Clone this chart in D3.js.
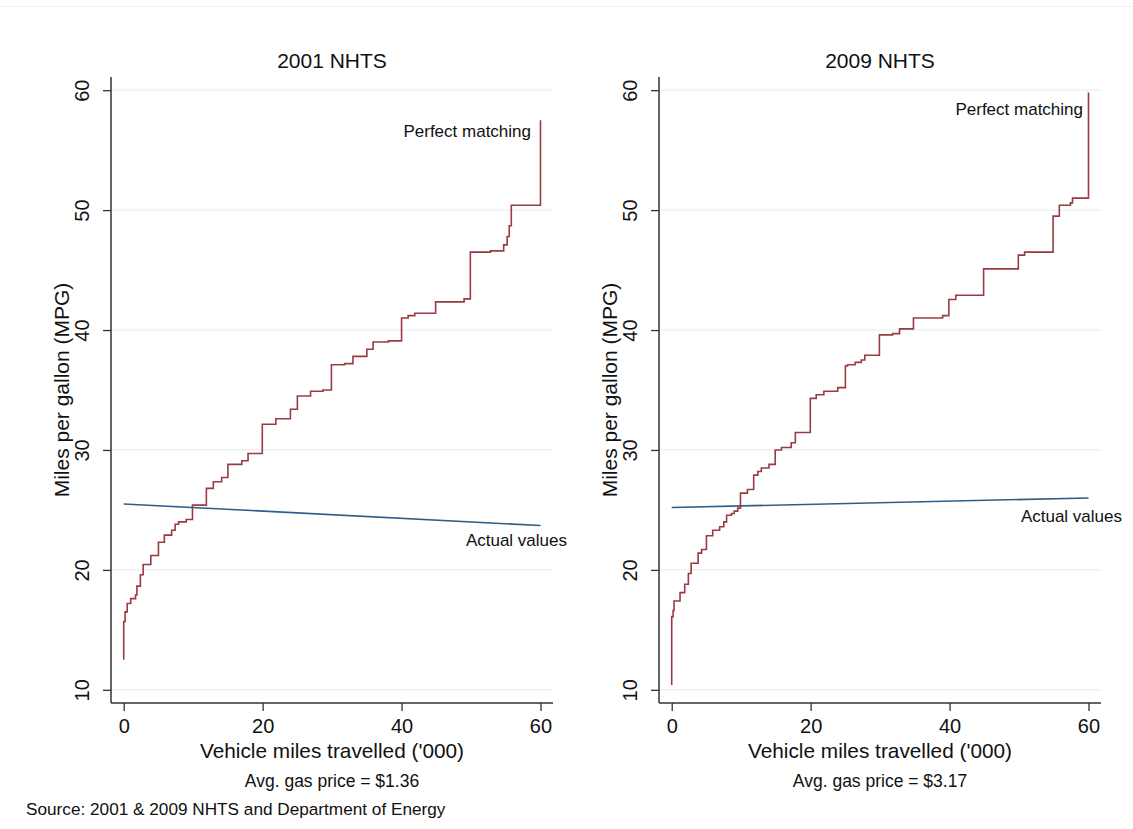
<!DOCTYPE html>
<html>
<head>
<meta charset="utf-8">
<script src="https://cdnjs.cloudflare.com/ajax/libs/d3/7.8.5/d3.min.js"></script>
<style>
  body { margin: 0; background: #fff; }
  svg { font-family: "Liberation Sans", Arial, sans-serif; }
</style>
</head>
<body>
<svg width="1133" height="829"></svg>
<script>
// values
var panelTitles = ["2001 NHTS", "2009 NHTS"];
var gasPrices = ["Avg. gas price = $1.36", "Avg. gas price = $3.17"];
var xTicks = [0, 20, 40, 60];
var yTicks = [10, 20, 30, 40, 50, 60];

// "Perfect matching" step curves: vmt ('000) and mpg at each step
var match2001X = [0, 0, 0.2, 0.5, 1.0, 1.7, 1.9, 2.4, 2.8, 3.9, 5.0, 5.85, 6.9, 7.4, 7.9, 9.0, 9.9, 11.9, 12.9, 14.1, 15.0, 17.0, 17.9, 19.95, 21.9, 24.0, 25.0, 26.9, 28.7, 29.9, 31.8, 33.0, 35.0, 35.9, 38.1, 40.0, 40.95, 41.9, 44.9, 49.0, 49.9, 52.8, 54.7, 55.2, 55.5, 55.8, 60];
var match2001Y = [12.5, 15.7, 16.5, 17.2, 17.6, 17.9, 18.65, 19.6, 20.45, 21.2, 22.3, 22.9, 23.3, 23.8, 24.0, 24.2, 25.4, 26.8, 27.35, 27.7, 28.8, 29.1, 29.7, 32.15, 32.6, 33.4, 34.5, 34.9, 35.0, 37.1, 37.2, 37.8, 38.4, 39.0, 39.1, 41.0, 41.2, 41.4, 42.35, 42.6, 46.5, 46.6, 47.1, 47.8, 48.7, 50.4, 57.5];

var match2009X = [0, 0, 0.2, 0.33, 1.2, 1.87, 2.4, 2.8, 3.8, 4.3, 5.0, 5.9, 6.9, 7.5, 7.9, 8.6, 9.0, 9.5, 9.9, 10.9, 11.8, 12.4, 12.9, 14.0, 14.9, 15.8, 17.2, 17.8, 19.95, 20.8, 21.9, 23.9, 25.0, 25.3, 26.4, 27.3, 27.8, 29.9, 31.8, 32.8, 34.8, 39.0, 39.9, 40.9, 44.9, 49.9, 50.8, 54.9, 55.8, 57.4, 57.7, 60];
var match2009Y = [10.4, 16.1, 16.6, 17.4, 18.1, 18.8, 19.7, 20.55, 21.4, 21.7, 22.85, 23.3, 23.6, 24.0, 24.55, 24.7, 24.9, 25.15, 26.4, 26.7, 27.9, 28.2, 28.5, 28.8, 30.0, 30.2, 30.6, 31.45, 34.3, 34.6, 34.9, 35.2, 37.0, 37.1, 37.3, 37.5, 37.9, 39.6, 39.7, 40.1, 41.0, 41.2, 42.55, 42.9, 45.1, 46.25, 46.5, 49.5, 50.4, 50.6, 51.0, 59.8];

// "Actual values" lines
var actual2001X = [0, 60];
var actual2001Y = [25.5, 23.7];
var actual2009X = [0, 60];
var actual2009Y = [25.2, 26.0];

var svg = d3.select("svg");

// faint frame line at top
svg.append("line")
  .attr("x1", 0).attr("x2", 1133)
  .attr("y1", 6.5).attr("y2", 6.5)
  .style("stroke", "#eef0f2");

var panels = [
  { left: 111, title: panelTitles[0], gas: gasPrices[0],
    mx: match2001X, my: match2001Y, ax: actual2001X, ay: actual2001Y,
    pmLabel: [531, 137], avLabel: [567, 546] },
  { left: 659, title: panelTitles[1], gas: gasPrices[1],
    mx: match2009X, my: match2009Y, ax: actual2009X, ay: actual2009Y,
    pmLabel: [1083, 115], avLabel: [1122, 522] }
];

var plotW = 442, plotTop = 77, plotBottom = 703;

panels.forEach(function(p) {
  var x = d3.scaleLinear().domain([-1.83, 61.8]).range([p.left, p.left + plotW]);
  var y = d3.scaleLinear().domain([8.9, 61.1]).range([plotBottom, plotTop]);

  var g = svg.append("g");

  // grid
  g.selectAll(".grid")
    .data(yTicks)
    .enter().append("line")
    .attr("x1", p.left).attr("x2", p.left + plotW)
    .attr("y1", function(d) { return y(d); })
    .attr("y2", function(d) { return y(d); })
    .style("stroke", "#e9f0f1")
    .style("stroke-width", 1.2);

  // y axis
  var yAxis = g.append("g")
    .attr("transform", "translate(" + p.left + ",0)")
    .call(d3.axisLeft(y).tickValues(yTicks).tickSize(8).tickPadding(4));
  yAxis.select(".domain").remove();
  yAxis.selectAll(".tick line").style("stroke", "#333").style("stroke-width", 1.3);
  yAxis.selectAll(".tick text")
    .attr("transform", "rotate(-90)")
    .attr("x", 0).attr("y", -22)
    .attr("dy", "0")
    .style("text-anchor", "middle")
    .style("font-size", "20px")
    .style("fill", "#111")
    .style("font-family", "Liberation Sans, Arial, sans-serif");

  // x axis
  var xAxis = g.append("g")
    .attr("transform", "translate(0," + plotBottom + ")")
    .call(d3.axisBottom(x).tickValues(xTicks).tickSize(8).tickPadding(8));
  xAxis.select(".domain").remove();
  xAxis.selectAll(".tick line").style("stroke", "#333").style("stroke-width", 1.3);
  xAxis.selectAll(".tick text")
    .style("font-size", "20px")
    .style("fill", "#111")
    .style("font-family", "Liberation Sans, Arial, sans-serif");

  // axis lines
  g.append("line")
    .attr("x1", p.left).attr("x2", p.left)
    .attr("y1", plotTop).attr("y2", plotBottom)
    .style("stroke", "#333").style("stroke-width", 1.5);
  g.append("line")
    .attr("x1", p.left).attr("x2", p.left + plotW)
    .attr("y1", plotBottom).attr("y2", plotBottom)
    .style("stroke", "#333").style("stroke-width", 1.5);

  // lines
  var stepLine = d3.line()
    .x(function(d) { return x(d[0]); })
    .y(function(d) { return y(d[1]); })
    .curve(d3.curveStepAfter);
  var straight = d3.line()
    .x(function(d) { return x(d[0]); })
    .y(function(d) { return y(d[1]); });

  g.append("path")
    .datum(d3.zip(p.ax, p.ay))
    .attr("d", straight)
    .style("fill", "none")
    .style("stroke", "#2f5d88")
    .style("stroke-width", 1.6);

  g.append("path")
    .datum(d3.zip(p.mx, p.my))
    .attr("d", stepLine)
    .style("fill", "none")
    .style("stroke", "#993a44")
    .style("stroke-width", 1.6);

  // labels
  g.append("text")
    .attr("x", p.pmLabel[0]).attr("y", p.pmLabel[1])
    .style("text-anchor", "end")
    .style("font-size", "17px")
    .style("fill", "#111")
    .text("Perfect matching");
  g.append("text")
    .attr("x", p.avLabel[0]).attr("y", p.avLabel[1])
    .style("text-anchor", "end")
    .style("font-size", "17px")
    .style("fill", "#111")
    .text("Actual values");

  var cx = p.left + plotW / 2;
  g.append("text")
    .attr("x", cx).attr("y", 68)
    .style("text-anchor", "middle")
    .style("font-size", "21px")
    .style("fill", "#111")
    .text(p.title);

  g.append("text")
    .attr("x", cx).attr("y", 758)
    .style("text-anchor", "middle")
    .style("font-size", "20.8px")
    .style("fill", "#111")
    .text("Vehicle miles travelled ('000)");

  g.append("text")
    .attr("x", cx).attr("y", 787)
    .style("text-anchor", "middle")
    .style("font-size", "17.5px")
    .style("fill", "#111")
    .text(p.gas);

  g.append("text")
    .attr("transform", "translate(" + (p.left - 42) + "," + ((plotTop + plotBottom) / 2) + ") rotate(-90)")
    .style("text-anchor", "middle")
    .style("font-size", "21px")
    .style("fill", "#111")
    .text("Miles per gallon (MPG)");
});

svg.append("text")
  .attr("x", 26).attr("y", 815)
  .style("font-size", "17.2px")
  .style("fill", "#111")
  .text("Source: 2001 & 2009 NHTS and Department of Energy");
</script>
</body>
</html>
